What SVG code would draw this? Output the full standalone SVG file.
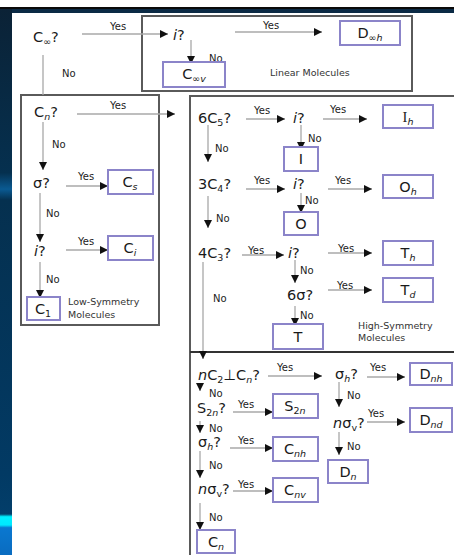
<svg xmlns="http://www.w3.org/2000/svg" width="454" height="555" viewBox="0 0 454 555">
<style>
.bg{fill:#ffffff}
.grp{fill:none;stroke:#5a5a5a;stroke-width:2}
.nd{fill:#fff;stroke:#8b84c9;stroke-width:2}
.c{stroke:#a8a8a8;stroke-width:1.3;fill:none}
.ca{stroke:#a8a8a8;stroke-width:1.3;fill:none;marker-end:url(#ah)}
text{font-family:"DejaVu Sans","Liberation Sans",sans-serif;fill:#1a1a1a}
.q{font-size:14.5px}
.t{font-size:14.5px;text-anchor:middle}
.l{font-size:10px;fill:#222}
.g{font-size:9.5px;fill:#333}
.s{font-size:9.5px}
.i{font-style:italic}
</style>
<defs>
<marker id="ah" markerUnits="userSpaceOnUse" markerWidth="9" markerHeight="8" refX="8" refY="4" orient="auto">
<path d="M0,0 L8,4 L0,8 z" fill="#111"/>
</marker>
<linearGradient id="side" x1="0" y1="0" x2="0" y2="1">
<stop offset="0" stop-color="#0b2236"/>
<stop offset="0.3" stop-color="#05304f"/>
<stop offset="0.33" stop-color="#0a5a92"/>
<stop offset="0.35" stop-color="#05304f"/>
<stop offset="0.85" stop-color="#023a64"/>
<stop offset="0.925" stop-color="#033e6a"/>
<stop offset="0.93" stop-color="#00f0ff"/>
<stop offset="0.945" stop-color="#00e8ff"/>
<stop offset="0.95" stop-color="#0a78d0"/>
<stop offset="1" stop-color="#0a6cc0"/>
</linearGradient>
</defs>
<rect x="0" y="0" width="454" height="555" fill="#fff"/>
<rect x="0" y="7" width="454" height="6" fill="#0b2a45"/>
<rect x="0" y="7" width="454" height="2" fill="#0a0a0a"/>
<rect x="0" y="9" width="12" height="546" fill="url(#side)"/>

<g id="groups">
<rect id="linear-box" class="grp" x="142" y="16" width="270" height="75"/>
<rect id="low-box" class="grp" x="21" y="95" width="138" height="230"/>
<path id="high-box" class="grp" d="M456,96 H190 V557"/>
<line id="divider" x1="190" y1="352" x2="456" y2="352" stroke="#333" stroke-width="2"/>
</g>

<g id="connectors">
<line class="ca" x1="82" y1="34" x2="168" y2="34"/>
<line class="ca" x1="235" y1="32" x2="322" y2="32"/>
<line class="ca" x1="191" y1="40" x2="191" y2="64"/>
<line class="c" x1="43" y1="55" x2="43" y2="95"/>
<line class="ca" x1="77" y1="114" x2="175" y2="114"/>
<line class="ca" x1="43" y1="122" x2="43" y2="170"/>
<line class="ca" x1="66" y1="186" x2="108" y2="186"/>
<line class="ca" x1="40" y1="193" x2="40" y2="242"/>
<line class="ca" x1="66" y1="250" x2="108" y2="250"/>
<line class="ca" x1="40" y1="262" x2="40" y2="298"/>

<line class="ca" x1="246" y1="119" x2="285" y2="119"/>
<line class="ca" x1="323" y1="119" x2="367" y2="119"/>
<line class="ca" x1="301" y1="125" x2="301" y2="150"/>
<line class="ca" x1="208" y1="125" x2="208" y2="162"/>
<line class="ca" x1="246" y1="189" x2="285" y2="189"/>
<line class="ca" x1="328" y1="189" x2="372" y2="189"/>
<line class="ca" x1="301" y1="193" x2="301" y2="213"/>
<line class="ca" x1="208" y1="196" x2="208" y2="228"/>
<line class="ca" x1="242" y1="255" x2="284" y2="255"/>
<line class="ca" x1="328" y1="253" x2="372" y2="253"/>
<line class="ca" x1="295" y1="260" x2="295" y2="283"/>
<line class="ca" x1="328" y1="290" x2="372" y2="290"/>
<line class="ca" x1="295" y1="306" x2="295" y2="326"/>
<line class="ca" x1="203" y1="262" x2="203" y2="359"/>

<line class="ca" x1="268" y1="376" x2="322" y2="376"/>
<line class="ca" x1="367" y1="377" x2="405" y2="377"/>
<line class="ca" x1="339" y1="382" x2="339" y2="407"/>
<line class="ca" x1="367" y1="422" x2="405" y2="422"/>
<line class="ca" x1="339" y1="432" x2="339" y2="455"/>
<line class="ca" x1="200" y1="383" x2="200" y2="391"/>
<line class="ca" x1="233" y1="412" x2="273" y2="412"/>
<line class="ca" x1="200" y1="421" x2="200" y2="433"/>
<line class="ca" x1="230" y1="448" x2="273" y2="448"/>
<line class="ca" x1="200" y1="451" x2="200" y2="478"/>
<line class="ca" x1="233" y1="491" x2="273" y2="491"/>
<line class="ca" x1="200" y1="503" x2="200" y2="530"/>
</g>

<g id="edge-labels">
<text class="l" x="110" y="30">Yes</text>
<text class="l" x="263" y="29">Yes</text>
<text class="l" x="209" y="62">No</text>
<text class="l" x="62" y="77">No</text>
<text class="l" x="110" y="109">Yes</text>
<text class="l" x="52" y="148">No</text>
<text class="l" x="78" y="180">Yes</text>
<text class="l" x="46" y="217">No</text>
<text class="l" x="78" y="245">Yes</text>
<text class="l" x="46" y="283">No</text>
<text class="l" x="254" y="114">Yes</text>
<text class="l" x="330" y="113">Yes</text>
<text class="l" x="308" y="142">No</text>
<text class="l" x="215" y="152">No</text>
<text class="l" x="254" y="184">Yes</text>
<text class="l" x="335" y="184">Yes</text>
<text class="l" x="305" y="204">No</text>
<text class="l" x="216" y="222">No</text>
<text class="l" x="248" y="254">Yes</text>
<text class="l" x="338" y="252">Yes</text>
<text class="l" x="300" y="274">No</text>
<text class="l" x="337" y="289">Yes</text>
<text class="l" x="300" y="319">No</text>
<text class="l" x="213" y="302">No</text>
<text class="l" x="277" y="371">Yes</text>
<text class="l" x="370" y="371">Yes</text>
<text class="l" x="347" y="399">No</text>
<text class="l" x="368" y="417">Yes</text>
<text class="l" x="347" y="450">No</text>
<text class="l" x="209" y="397">No</text>
<text class="l" x="238" y="408">Yes</text>
<text class="l" x="209" y="432">No</text>
<text class="l" x="238" y="444">Yes</text>
<text class="l" x="209" y="469">No</text>
<text class="l" x="238" y="488">Yes</text>
<text class="l" x="209" y="521">No</text>
</g>

<g id="group-labels">
<text class="g" x="270" y="76">Linear Molecules</text>
<text class="g" x="68" y="305">Low-Symmetry</text>
<text class="g" x="68" y="318">Molecules</text>
<text class="g" x="358" y="329">High-Symmetry</text>
<text class="g" x="358" y="341">Molecules</text>
</g>

<g id="q-cinf"><text class="q" x="33" y="42">C<tspan class="s" dy="3">∞</tspan><tspan dy="-3">?</tspan></text></g>
<g id="q-i1"><text class="q" x="173" y="40"><tspan class="i">i</tspan>?</text></g>
<g id="n-dinfh"><rect class="nd" x="340" y="21" width="60" height="24"/><text class="t" x="370" y="38">D<tspan class="s" dy="3">∞<tspan class="i">h</tspan></tspan></text></g>
<g id="n-cinfv"><rect class="nd" x="163" y="62" width="62" height="25"/><text class="t" x="194" y="79">C<tspan class="s" dy="3">∞<tspan class="i">v</tspan></tspan></text></g>

<g id="q-cn"><text class="q" x="34" y="117">C<tspan class="s i" dy="3">n</tspan><tspan dy="-3">?</tspan></text></g>
<g id="q-sigma"><text class="q" x="33" y="188">σ?</text></g>
<g id="n-cs"><rect class="nd" x="108" y="170" width="45" height="24"/><text class="t" x="130" y="187">C<tspan class="s i" dy="3">s</tspan></text></g>
<g id="q-i2"><text class="q" x="34" y="256"><tspan class="i">i</tspan>?</text></g>
<g id="n-ci"><rect class="nd" x="108" y="236" width="45" height="24"/><text class="t" x="130" y="253">C<tspan class="s i" dy="3">i</tspan></text></g>
<g id="n-c1"><rect class="nd" x="27" y="297" width="33" height="23"/><text class="t" x="43" y="314">C<tspan class="s" dy="3">1</tspan></text></g>

<g id="q-6c5"><text class="q" x="198" y="123">6C<tspan class="s" dy="3">5</tspan><tspan dy="-3">?</tspan></text></g>
<g id="q-i3"><text class="q" x="293" y="123"><tspan class="i">i</tspan>?</text></g>
<g id="n-ih"><rect class="nd" x="383" y="105" width="50" height="23"/><text class="t" x="408" y="122"><tspan font-family="Liberation Serif,serif">I</tspan><tspan class="s i" dy="3">h</tspan></text></g>
<g id="n-i"><rect class="nd" x="284" y="147" width="34" height="24"/><text class="t" x="301" y="164" font-family="Liberation Serif,serif">I</text></g>
<g id="q-3c4"><text class="q" x="198" y="189">3C<tspan class="s" dy="3">4</tspan><tspan dy="-3">?</tspan></text></g>
<g id="q-i4"><text class="q" x="293" y="189"><tspan class="i">i</tspan>?</text></g>
<g id="n-oh"><rect class="nd" x="383" y="175" width="50" height="23"/><text class="t" x="408" y="192">O<tspan class="s i" dy="3">h</tspan></text></g>
<g id="n-o"><rect class="nd" x="284" y="212" width="34" height="23"/><text class="t" x="301" y="229">O</text></g>
<g id="q-4c3"><text class="q" x="198" y="258">4C<tspan class="s" dy="3">3</tspan><tspan dy="-3">?</tspan></text></g>
<g id="q-i5"><text class="q" x="288" y="258"><tspan class="i">i</tspan>?</text></g>
<g id="n-th"><rect class="nd" x="383" y="241" width="50" height="24"/><text class="t" x="408" y="258">T<tspan class="s i" dy="3">h</tspan></text></g>
<g id="q-6sigma"><text class="q" x="287" y="300">6σ?</text></g>
<g id="n-td"><rect class="nd" x="383" y="278" width="50" height="24"/><text class="t" x="408" y="295">T<tspan class="s i" dy="3">d</tspan></text></g>
<g id="n-t"><rect class="nd" x="273" y="324" width="50" height="25"/><text class="t" x="298" y="342">T</text></g>

<g id="q-nc2"><text class="q" x="198" y="380"><tspan class="i">n</tspan>C<tspan class="s" dy="3">2</tspan><tspan dy="-3">⊥C</tspan><tspan class="s i" dy="3">n</tspan><tspan dy="-3">?</tspan></text></g>
<g id="q-sigmah1"><text class="q" x="335" y="379">σ<tspan class="s i" dy="3">h</tspan><tspan dy="-3">?</tspan></text></g>
<g id="n-dnh"><rect class="nd" x="410" y="363" width="42" height="22"/><text class="t" x="431" y="379">D<tspan class="s i" dy="3">nh</tspan></text></g>
<g id="q-nsigmav1"><text class="q" x="333" y="428"><tspan class="i">n</tspan>σ<tspan class="s" dy="3">v</tspan><tspan dy="-3">?</tspan></text></g>
<g id="n-dnd"><rect class="nd" x="410" y="408" width="42" height="24"/><text class="t" x="431" y="425">D<tspan class="s i" dy="3">nd</tspan></text></g>
<g id="n-dn"><rect class="nd" x="328" y="460" width="40" height="23"/><text class="t" x="348" y="477">D<tspan class="s i" dy="3">n</tspan></text></g>
<g id="q-s2n"><text class="q" x="197" y="413">S<tspan class="s" dy="3">2<tspan class="i">n</tspan></tspan><tspan dy="-3">?</tspan></text></g>
<g id="n-s2n"><rect class="nd" x="273" y="394" width="45" height="24"/><text class="t" x="295" y="411">S<tspan class="s" dy="3">2<tspan class="i">n</tspan></tspan></text></g>
<g id="q-sigmah2"><text class="q" x="198" y="447">σ<tspan class="s i" dy="3">h</tspan><tspan dy="-3">?</tspan></text></g>
<g id="n-cnh"><rect class="nd" x="273" y="437" width="45" height="24"/><text class="t" x="295" y="454">C<tspan class="s i" dy="3">nh</tspan></text></g>
<g id="q-nsigmav2"><text class="q" x="198" y="494"><tspan class="i">n</tspan>σ<tspan class="s" dy="3">v</tspan><tspan dy="-3">?</tspan></text></g>
<g id="n-cnv"><rect class="nd" x="273" y="478" width="45" height="24"/><text class="t" x="295" y="495">C<tspan class="s i" dy="3">nv</tspan></text></g>
<g id="n-cn"><rect class="nd" x="197" y="530" width="38" height="23"/><text class="t" x="216" y="547">C<tspan class="s i" dy="3">n</tspan></text></g>
</svg>
